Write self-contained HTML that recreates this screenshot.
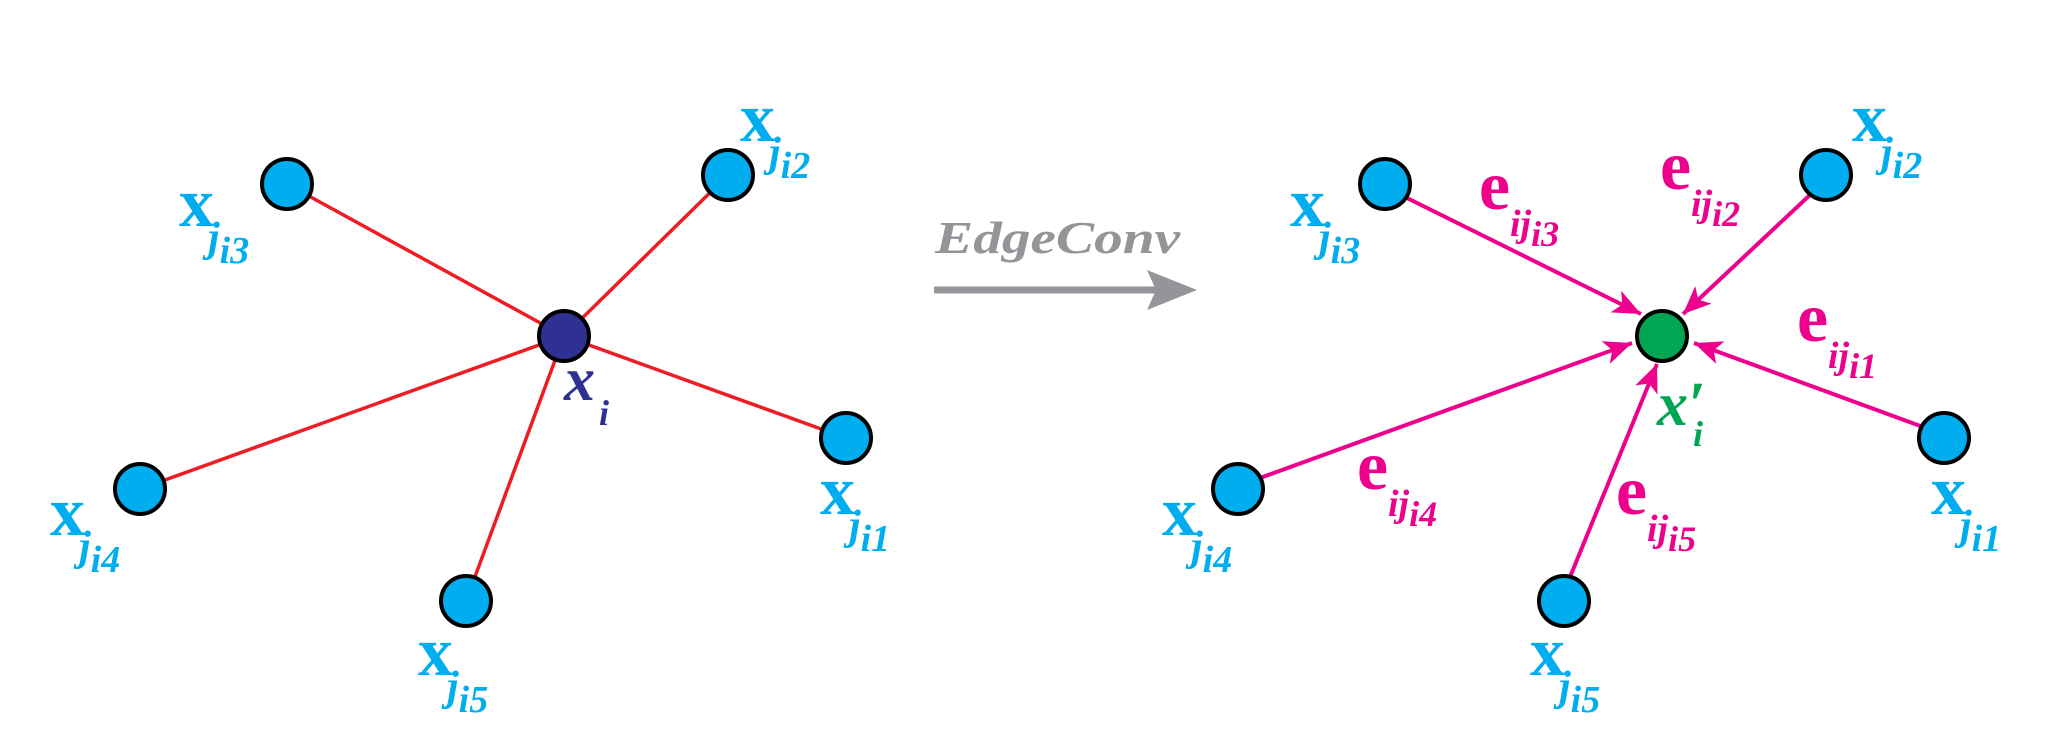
<!DOCTYPE html>
<html><head><meta charset="utf-8"><style>
html,body{margin:0;padding:0;background:#fff;width:2045px;height:746px;overflow:hidden}
svg{display:block}
text{font-family:"Liberation Serif","Times New Roman",serif}
.X{font-weight:bold;font-size:70px;fill:#00aeef}
.s{font-style:italic;font-weight:bold;font-size:42px;fill:#00aeef}
.E{font-weight:bold;font-size:70px;fill:#ec008c}
.es{font-style:italic;font-weight:bold;font-size:38px;fill:#ec008c}
.it{font-style:italic;font-weight:bold}
</style></head><body>
<svg width="2045" height="746" viewBox="0 0 2045 746" xmlns="http://www.w3.org/2000/svg">
<defs>
<marker id="ah" markerUnits="userSpaceOnUse" markerWidth="30" markerHeight="24" refX="28" refY="12" orient="auto">
<path d="M0,0 L28,12 L0,24 L7,12 z" fill="#ec008c"/>
</marker>
</defs>
<g stroke="#ee1c25" stroke-width="3.5">
<line x1="564" y1="336" x2="287" y2="184"/>
<line x1="564" y1="336" x2="728" y2="175"/>
<line x1="564" y1="336" x2="846" y2="438"/>
<line x1="564" y1="336" x2="140" y2="489"/>
<line x1="564" y1="336" x2="466" y2="601"/>
</g>
<g stroke="#000" stroke-width="4" fill="#00aeef">
<circle cx="287" cy="184" r="25"/>
<circle cx="728" cy="175" r="25"/>
<circle cx="846" cy="438" r="25"/>
<circle cx="140" cy="489" r="25"/>
<circle cx="466" cy="601" r="25"/>
<circle cx="564" cy="336" r="25" fill="#2e3192"/>
</g>
<text class="X" x="179" y="226">x</text><text class="s" x="208" y="251">j<tspan dy="12" font-size="38">i3</tspan></text>
<text class="X" x="740" y="141">x</text><text class="s" x="769" y="166">j<tspan dy="12" font-size="38">i2</tspan></text>
<text class="X" x="820" y="514">x</text><text class="s" x="849" y="539">j<tspan dy="12" font-size="38">i1</tspan></text>
<text class="X" x="50" y="535">x</text><text class="s" x="79" y="560">j<tspan dy="12" font-size="38">i4</tspan></text>
<text class="X" x="418" y="675">x</text><text class="s" x="447" y="700">j<tspan dy="12" font-size="38">i5</tspan></text>
<text class="it" x="564" y="400" font-size="62" fill="#2e3192">x</text>
<text class="it" x="599" y="425" font-size="36" fill="#2e3192">i</text>
<text class="it" x="935" y="253" font-size="46" fill="#939598" textLength="245" lengthAdjust="spacingAndGlyphs">EdgeConv</text>
<line x1="934" y1="290" x2="1160" y2="290" stroke="#939598" stroke-width="7"/>
<path d="M1147,270 L1197,290 L1147,310 L1156,290 z" fill="#939598"/>
<g stroke="#ec008c" stroke-width="4" marker-end="url(#ah)">
<line x1="1405" y1="197" x2="1641" y2="314"/>
<line x1="1811" y1="194" x2="1683" y2="314"/>
<line x1="1923" y1="427" x2="1694" y2="343"/>
<line x1="1260" y1="478" x2="1632" y2="343"/>
<line x1="1570" y1="577" x2="1657" y2="364"/>
</g>
<g stroke="#000" stroke-width="4" fill="#00aeef">
<circle cx="1385" cy="184" r="25"/>
<circle cx="1826" cy="175" r="25"/>
<circle cx="1944" cy="438" r="25"/>
<circle cx="1238" cy="489" r="25"/>
<circle cx="1564" cy="601" r="25"/>
<circle cx="1662" cy="336" r="25" fill="#00a651"/>
</g>
<text class="X" x="1290" y="226">x</text><text class="s" x="1319" y="251">j<tspan dy="12" font-size="38">i3</tspan></text>
<text class="X" x="1852" y="141">x</text><text class="s" x="1881" y="166">j<tspan dy="12" font-size="38">i2</tspan></text>
<text class="X" x="1931" y="514">x</text><text class="s" x="1960" y="539">j<tspan dy="12" font-size="38">i1</tspan></text>
<text class="X" x="1162" y="535">x</text><text class="s" x="1191" y="560">j<tspan dy="12" font-size="38">i4</tspan></text>
<text class="X" x="1530" y="675">x</text><text class="s" x="1559" y="700">j<tspan dy="12" font-size="38">i5</tspan></text>
<text class="it" x="1657" y="425" font-size="62" fill="#00a651">x′</text>
<text class="it" x="1693" y="446" font-size="36" fill="#00a651">i</text>
<text class="E" x="1479" y="209">e</text><text class="es" x="1510" y="236">ij<tspan dy="10" font-size="36">i3</tspan></text>
<text class="E" x="1660" y="189">e</text><text class="es" x="1691" y="216">ij<tspan dy="10" font-size="36">i2</tspan></text>
<text class="E" x="1797" y="341">e</text><text class="es" x="1828" y="368">ij<tspan dy="10" font-size="36">i1</tspan></text>
<text class="E" x="1357" y="489">e</text><text class="es" x="1388" y="516">ij<tspan dy="10" font-size="36">i4</tspan></text>
<text class="E" x="1616" y="514">e</text><text class="es" x="1647" y="541">ij<tspan dy="10" font-size="36">i5</tspan></text>
</svg>
</body></html>
